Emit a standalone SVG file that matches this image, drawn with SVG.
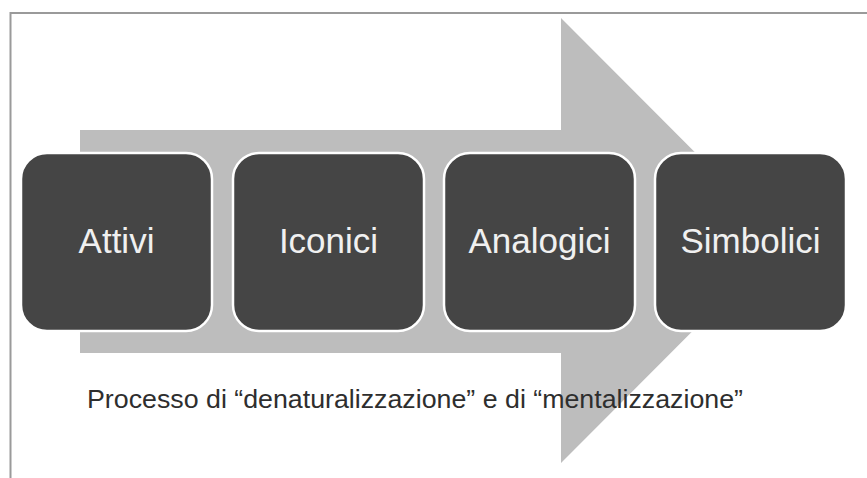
<svg xmlns="http://www.w3.org/2000/svg" width="867" height="478" viewBox="0 0 867 478">
  <style>
    .box { fill: #454545; stroke: #ffffff; stroke-width: 2.5; }
    .lbl { font-family: "Liberation Sans", Arial, sans-serif; font-size: 35px; fill: #f0f0f0; text-anchor: middle; }
    .cap { font-family: "Liberation Sans", Arial, sans-serif; font-size: 26px; fill: #2e2e2e; }
  </style>
  <rect x="0" y="0" width="867" height="478" fill="#ffffff"/>
  <path d="M10.5 478 V13 H867" fill="none" stroke="#9a9a9a" stroke-width="2"/>
  <g id="connectors">
    <polygon id="process-arrow" points="80,130 561,130 561,18 783,240.5 561,463 561,353 80,353" fill="#bdbdbd"/>
  </g>
  <g id="node-attivi">
    <rect class="box" x="21" y="153" width="191" height="178" rx="26" ry="26"/>
    <text class="lbl" x="116.5" y="253">Attivi</text>
  </g>
  <g id="node-iconici">
    <rect class="box" x="233" y="153" width="191" height="178" rx="26" ry="26"/>
    <text class="lbl" x="328.5" y="253">Iconici</text>
  </g>
  <g id="node-analogici">
    <rect class="box" x="444" y="153" width="191" height="178" rx="26" ry="26"/>
    <text class="lbl" x="539.5" y="253">Analogici</text>
  </g>
  <g id="node-simbolici">
    <rect class="box" x="655" y="153" width="191" height="178" rx="26" ry="26"/>
    <text class="lbl" x="750.5" y="253">Simbolici</text>
  </g>
  <g id="caption">
    <text class="cap" x="87" y="408" textLength="656" lengthAdjust="spacingAndGlyphs">Processo di “denaturalizzazione” e di “mentalizzazione”</text>
  </g>
</svg>
